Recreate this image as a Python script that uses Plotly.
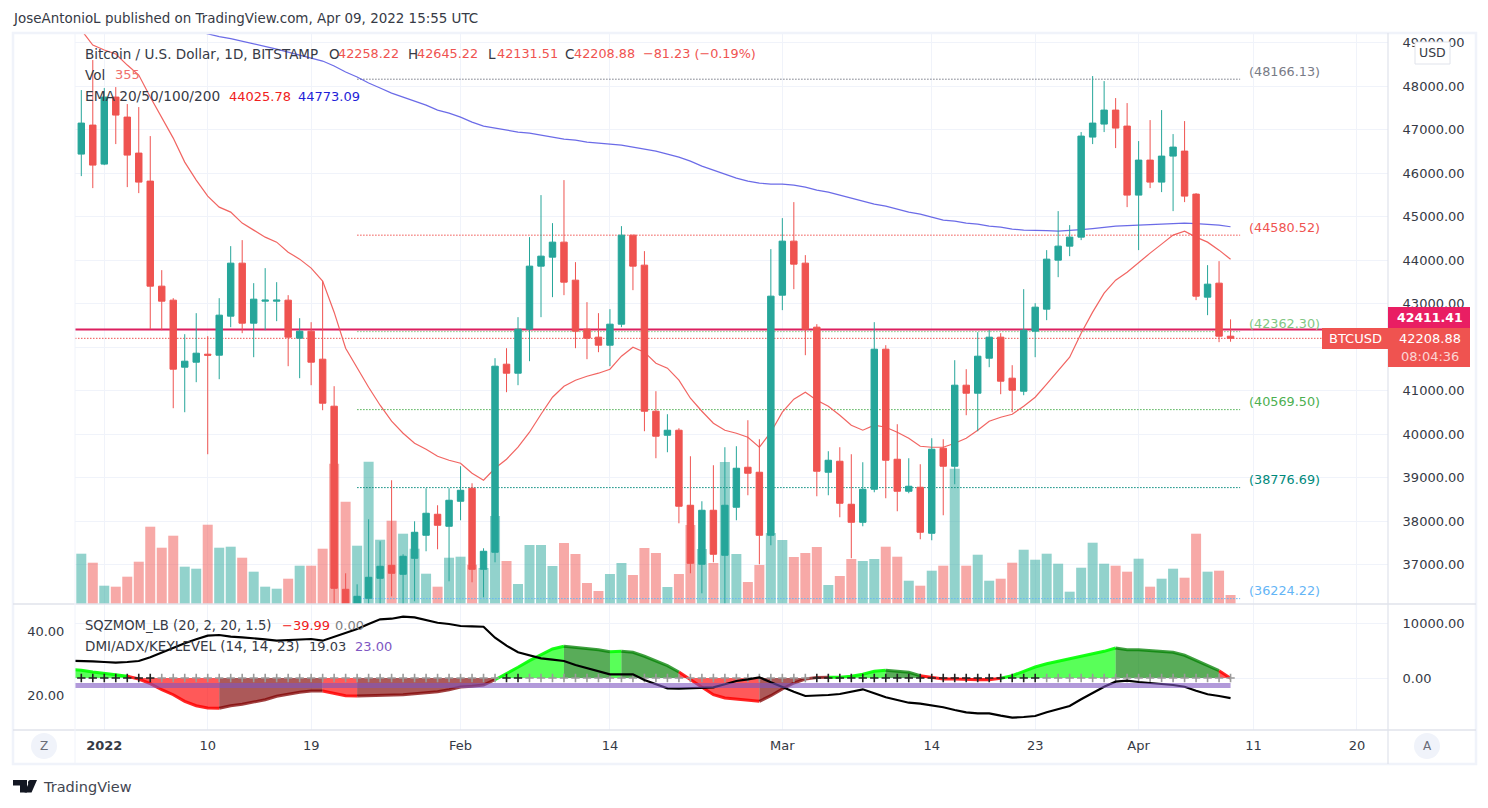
import pandas as pd
import plotly.graph_objects as go

# figure size, the page body adds an 8px margin
FIG_W = 1472
FIG_H = 792
OFF = 8
FONT = "DejaVu Sans"

UP = "#26a69a"
DOWN = "#ef5350"

# daily candles, Dec 30 2021 to Apr 09 2022
first_day = "2021-12-30"
opens = [46444,47111,46214,47755,47295,46467,45823,43408,43086,41545,41660,41844,41821,42718,43937,42557,43063,43063,43086,42212,
         42373,41729,40648,36439,35030,36232,36692,36991,36784,37152,37681,38164,37888,38463,38762,36899,37290,41614,41407,42419,
         43868,44075,44420,43546,42419,42235,42051,42534,44581,43891,40533,39981,40096,38371,37014,38256,37221,38325,39245,39130,
         37681,43201,44443,43937,42465,39130,39383,38394,37980,38739,41959,39429,38693,38785,37727,39682,39268,41131,40947,41752,
         42235,41292,40993,42373,42879,44006,44328,44535,46835,47134,47456,47088,45501,46306,45800,46398,46513,45524,43155,43477,42258]
highs = [47916,48606,47962,47985,47594,47525,46858,43776,43132,42304,42787,42258,43132,44328,44466,43477,43822,43500,43201,42672,
         42580,43523,41108,36807,36554,38049,37543,38946,37244,38003,38762,38371,38762,39268,38877,37382,41752,41982,42695,44535,
         45501,44857,45846,43960,43040,42787,42879,44788,44581,44213,40993,40464,40142,39498,38463,39291,39705,39728,40326,39889,
         44259,44972,45340,44121,42534,39613,39705,39544,39360,42580,42051,40234,39452,39314,39912,39889,41706,41499,42350,42396,
         42327,41591,43339,43017,44236,45133,44811,46950,48238,48123,47732,47617,46743,47226,47456,46904,47203,45547,43891,43983,42645]
lows = [45938,45662,46190,46674,45685,45547,42419,42396,40602,40510,41200,39544,41269,42465,42327,41775,42396,42603,41568,41292,
        41131,40556,35500,34000,34600,32950,35600,36278,35500,36163,37313,37359,36623,38026,36600,36255,37060,40970,41131,41683,
        42695,43155,43201,41982,41729,41890,41568,42465,43316,40073,39452,39590,37957,36807,36347,37060,36071,38026,38601,37014,
        37451,42856,43339,41821,38578,38601,38095,37152,37888,38670,38532,38233,38647,37589,37566,38141,38854,40441,40073,41545,
        40924,40510,40901,41775,42626,43615,44098,44466,46674,46950,46582,45225,44236,45662,45570,45133,45340,43086,42741,42120,42131]
closes = [47157,46191,47755,47341,46421,45800,43408,43063,41499,41683,41867,41821,42741,43937,42557,43109,43086,43086,42235,42373,
          41660,40717,36462,35030,36278,36715,36968,36807,37198,37750,38187,37911,38486,38716,36899,37313,41568,41407,42419,43868,
          44098,44420,43500,42373,42212,42051,42534,44581,43868,40533,39958,40096,38348,37037,38256,37244,38371,39222,39107,37681,
          43178,44443,43914,42419,39153,39406,38417,37980,38739,41959,39406,38693,38808,37750,39659,39268,41131,40947,41798,42235,
          41223,41016,42396,42925,44029,44328,44535,46858,47157,47456,47042,45501,46306,45800,46398,46605,45478,43178,43454,42258,42208.88]
volumes = [1982,1627,721,682,1076,1667,3046,2218,2691,1470,1391,3124,2218,2258,1824,1273,682,603,997,1509,
           1509,2179,5528,4031,2297,5607,2533,3282,2770,2179,1194,682,1824,1864,1548,1418,3467,1694,788,2325,
           2325,1497,2403,1970,827,512,1182,1615,1143,2206,2009,670,1182,3113,2167,1615,5595,1970,867,1537,
           2797,2522,1852,2009,2246,749,1103,1773,1694,1773,2258,1864,918,721,1312,1509,5331,1509,1942,918,
           997,1627,2139,1745,1982,1588,485,1430,2415,1588,1509,1273,1785,682,997,1391,1036,2770,1273,1312,355]
ema20 = [49296,48951,48836,48744,48491,48261,47755,47295,46812,46260,45846,45478,45225,45110,44857,44696,44535,44420,44190,44029,
         43822,43523,42810,41982,41522,41085,40671,40303,40027,39797,39659,39498,39406,39337,39107,38946,39222,39429,39705,40050,
         40464,40855,41108,41246,41338,41407,41499,41798,42005,41890,41637,41522,41246,40832,40533,40257,40096,40027,39935,39705,
         40050,40510,40809,40970,40786,40648,40441,40211,40096,40211,40165,40050,39912,39728,39705,39705,39797,39912,40096,40303,
         40395,40464,40648,40855,41154,41476,41775,42327,42810,43247,43546,43730,43960,44167,44374,44581,44673,44535,44420,44236,44025.78]
ema200 = [None]*10 + [49273,49204,49146,49100,49043,48974,48916,48859,48790,48721,
          48652,48583,48468,48330,48215,48077,47962,47847,47755,47663,47571,47456,47387,47295,47180,47088,47042,46996,46950,46927,
          46881,46835,46789,46766,46720,46697,46674,46651,46605,46559,46513,46444,46375,46283,46168,46076,45984,45892,45823,45777,
          45754,45754,45731,45685,45616,45570,45501,45432,45363,45294,45248,45179,45110,45064,44995,44926,44903,44857,44834,44788,
          44765,44719,44696,44696,44684,44673,44684,44707,44731,44765,44788,44800,44811,44823,44834,44857,44857,44846,44834,44811,44773.09]

# indicator pane, one extra day on the left (Dec 29)
momentum = [1550,1400,1090,910,600,310,-180,-1040,-2130,-3040,-4240,-5040,-5450,-5510,-5040,-4780,-4420,-3950,-3330,-2910,-2600,
            -2360,-2360,-2730,-3220,-3270,-3220,-3150,-3090,-3040,-2850,-2730,-2490,-2130,-1640,-1510,-1270,-310,780,1950,3150,
            4240,5270,5760,5580,5400,5150,4780,4850,4670,3950,3150,2240,1090,-310,-1690,-3040,-3640,-3820,-3950,-4240,
            -3220,-2000,-910,-180,110,150,130,310,670,1220,1400,1270,1040,420,55,-180,-180,-310,-310,-310,
            -55,420,1220,2000,2600,3090,3450,3950,4420,4850,5450,5150,5150,4960,4850,4670,4130,3220,2310,1330,-39.99]
# colour of the segment that ends on each point: L lime, G green, R red, M maroon
mom_colors = list("L"*6 + "R"*8 + "M"*9 + "R"*3 + "M"*12 + "L"*6 + "G"*4 + "L" + "G"*5 + "R"*7
                  + "M"*6 + "L"*5 + "G"*3 + "R"*7 + "L"*10 + "G"*9 + "R")
dmi = [30.7,30.72,30.53,30.31,30.09,30.31,30.63,31.78,33.22,34.91,36.16,37.41,38.53,38.75,38.22,38.03,37.81,37.41,36.97,37.09,37.28,
       37.5,36.97,38.22,39.59,40.63,42.19,43.66,43.84,44.47,44.28,43.44,42.59,42.19,41.56,41.47,41.34,37.91,35.41,33.34,32.5,
       31.47,31.03,30.63,29.38,28.34,27.28,26.47,26.47,26.47,24.69,23.34,22.09,21.97,22.09,22.41,22.41,23.34,24.38,24.91,25.53,
       23.97,22.41,21.03,19.69,19.78,20,20.31,21.03,21.78,20.53,19.28,18.44,17.59,17.28,16.78,16.16,15.31,14.59,14.28,14.28,
       13.53,12.91,13.13,13.44,14.59,15.63,16.56,18.66,20.72,22.59,24.16,24.47,24.06,23.66,23.44,23.13,22.59,21.34,20.22,19.69,19.03]
# 1 = dark cross, 0 = grey cross
squeeze_on = list("1"*7 + "0"*30 + "1"*2 + "0"*25 + "1"*20 + "0"*17)
key_level = 23.0

# horizontal levels
level_values = [48166.13, 44580.52, 42362.30, 40569.50, 38776.69, 36224.22]
level_colors = ["#787b86", "#ef5350", "#81c784", "#4caf50", "#00897b", "#64b5f6"]
level_start = "2022-01-23"
level_end = "2022-04-09 20:00"
alert_price = 42411.41
last_price = 42208.88

# 42000.00 sits under the price tags, so it keeps its grid line but no label
price_ticks = [37000,38000,39000,40000,41000,42000,43000,44000,45000,46000,47000,48000,49000]
price_labels = ["37000.00","38000.00","39000.00","40000.00","41000.00","","43000.00","44000.00","45000.00","46000.00","47000.00","48000.00","49000.00"]
time_tick_dates = ["2022-01-01","2022-01-10","2022-01-19","2022-02-01","2022-02-14","2022-03-01","2022-03-14","2022-03-23","2022-04-01","2022-04-11","2022-04-20"]
time_tick_labels = ["<b>2022</b>","10","19","Feb","14","Mar","14","23","Apr","11","20"]

x_range = ["2021-12-29 10:51", "2022-04-22 16:48"]
price_range = [36101, 49228]
volume_range = [0, 22500]
mom_range = [-9454, 13454]
dmi_range = [9.06, 48.44]

dates = pd.date_range(first_day, periods=len(opens))
ind_dates = pd.date_range("2021-12-29", periods=len(momentum))


def xp(px):
    return (px - OFF) / FIG_W


def yp(py):
    return 1 - (py - OFF) / FIG_H


fig = go.Figure()

# volume goes at the back, then lines, then candles on top
bar_colors = ["rgba(38,166,154,0.5)" if c >= o else "rgba(239,83,80,0.5)" for o, c in zip(opens, closes)]
fig.add_trace(go.Bar(x=dates, y=volumes, marker=dict(color=bar_colors, line_width=0), xaxis="x", yaxis="y"))

DOTS = "1.5px,1.5px"
fig.add_trace(go.Scatter(x=x_range, y=[last_price]*2, mode="lines", line=dict(color="#ef5350", width=1, dash=DOTS), xaxis="x", yaxis="y2"))
for val, col in zip(level_values, level_colors):
    fig.add_trace(go.Scatter(x=[level_start, level_end], y=[val, val], mode="lines",
                             line=dict(color=col, width=1, dash=DOTS), xaxis="x", yaxis="y2"))
fig.add_trace(go.Scatter(x=x_range, y=[alert_price]*2, mode="lines", line=dict(color="#dc1f5f", width=2), xaxis="x", yaxis="y2"))
fig.add_trace(go.Scatter(x=dates, y=ema20, mode="lines", line=dict(color="rgba(239,83,80,0.9)", width=1.2), xaxis="x", yaxis="y2"))
fig.add_trace(go.Scatter(x=dates, y=ema200, mode="lines", line=dict(color="rgba(70,70,225,0.8)", width=1.2), xaxis="x", yaxis="y2"))

fig.add_trace(go.Candlestick(
    x=dates, open=opens, high=highs, low=lows, close=closes,
    increasing=dict(line=dict(color=UP, width=1), fillcolor=UP),
    decreasing=dict(line=dict(color=DOWN, width=1), fillcolor=DOWN),
    whiskerwidth=0, xaxis="x", yaxis="y3",
))

# momentum area, one trace per colour run
mom_styles = {
    "L": ("rgba(0,255,0,0.9)", "rgba(0,255,0,0.65)"),
    "G": ("rgba(0,128,0,0.75)", "rgba(0,128,0,0.65)"),
    "R": ("rgba(255,0,0,0.85)", "rgba(255,0,0,0.65)"),
    "M": ("rgba(128,0,0,0.75)", "rgba(128,0,0,0.65)"),
}
start = 0
for i in range(1, len(momentum) + 1):
    if i == len(momentum) or mom_colors[i] != mom_colors[start]:
        line_col, fill_col = mom_styles[mom_colors[start]]
        fig.add_trace(go.Scatter(x=ind_dates[max(start - 1, 0):i], y=momentum[max(start - 1, 0):i], mode="lines",
                                 fill="tozeroy", fillcolor=fill_col, line=dict(color=line_col, width=3),
                                 xaxis="x2", yaxis="y4"))
        start = i

# squeeze crosses on the zero line
cross_colors = ["#222222" if s == "1" else "#9a9a9a" for s in squeeze_on]
fig.add_trace(go.Scatter(x=dates, y=[0]*len(dates), mode="markers",
                         marker=dict(symbol="cross-thin", size=6, line=dict(color=cross_colors, width=1.6)),
                         xaxis="x2", yaxis="y4"))

fig.add_trace(go.Scatter(x=ind_dates, y=dmi, mode="lines", line=dict(color="#000000", width=2.2), xaxis="x2", yaxis="y5"))
fig.add_trace(go.Scatter(x=ind_dates[[0, -1]], y=[key_level, key_level], mode="lines",
                         line=dict(color="rgba(126,87,194,0.6)", width=5), xaxis="x2", yaxis="y5"))

GRID = "#f0f3fa"
tick_font = dict(family=FONT, size=13, color="#363a45")
x_dom = [xp(75), xp(1388)]
price_dom = [yp(604), yp(33)]
ind_dom = [yp(730), yp(604)]

fig.update_layout(
    width=FIG_W, height=FIG_H, margin=dict(l=0, r=0, t=0, b=0, pad=0),
    paper_bgcolor="#ffffff", plot_bgcolor="#ffffff", showlegend=False,
    font=dict(family=FONT, size=13, color="#131722"),
    bargap=0.13, boxgap=0.2,
    xaxis=dict(domain=x_dom, type="date", range=x_range, anchor="y", tickvals=time_tick_dates, showticklabels=False,
               ticks="", showgrid=True, gridcolor=GRID, gridwidth=1, rangeslider=dict(visible=False), zeroline=False),
    yaxis=dict(domain=price_dom, range=volume_range, visible=False, showgrid=False, zeroline=False),
    yaxis2=dict(overlaying="y", side="right", anchor="x", range=price_range, tickvals=price_ticks, ticktext=price_labels,
                showgrid=True, gridcolor=GRID, zeroline=False, tickfont=tick_font,
                ticks="outside", ticklen=11, tickcolor="rgba(0,0,0,0)"),
    yaxis3=dict(overlaying="y", anchor="x", range=price_range, visible=False, showgrid=False, zeroline=False),
    xaxis2=dict(domain=x_dom, type="date", range=x_range, anchor="y4", tickvals=time_tick_dates, ticktext=time_tick_labels,
                tickfont=tick_font, ticks="outside", ticklen=3, tickcolor="rgba(0,0,0,0)",
                showgrid=True, gridcolor=GRID, zeroline=False),
    yaxis4=dict(domain=ind_dom, side="right", anchor="x2", range=mom_range, tickvals=[0, 10000], tickformat=".2f",
                showgrid=True, gridcolor=GRID, zeroline=False, tickfont=tick_font,
                ticks="outside", ticklen=11, tickcolor="rgba(0,0,0,0)"),
    yaxis5=dict(overlaying="y4", side="left", anchor="x2", range=dmi_range, tickvals=[20, 40], tickformat=".2f",
                showgrid=False, zeroline=False, tickfont=tick_font,
                ticks="outside", ticklen=7, tickcolor="rgba(0,0,0,0)"),
)

# chart frame and pane separators
FRAME = "#f0f3fa"
EDGE = "#e0e3eb"
shapes = [
    dict(type="rect", x0=xp(13), x1=xp(1476), y0=yp(33), y1=yp(764), line=dict(color=FRAME, width=2.5)),
    dict(type="line", x0=xp(13), x1=xp(1476), y0=yp(604), y1=yp(604), line=dict(color=EDGE, width=1.5)),
    dict(type="line", x0=xp(13), x1=xp(1476), y0=yp(730), y1=yp(730), line=dict(color=EDGE, width=1.5)),
    dict(type="line", x0=xp(1388), x1=xp(1388), y0=yp(33), y1=yp(764), line=dict(color=EDGE, width=1.2)),
    dict(type="line", x0=xp(75), x1=xp(75), y0=yp(33), y1=yp(764), line=dict(color=FRAME, width=1)),
    # price tags
    dict(type="rect", x0=xp(1388), x1=xp(1470), y0=yp(307), y1=yp(328), fillcolor="#e91e63", line_width=0),
    dict(type="rect", x0=xp(1388), x1=xp(1470), y0=yp(328), y1=yp(367), fillcolor="#ef5350", line_width=0),
    dict(type="rect", x0=xp(1322), x1=xp(1388), y0=yp(328), y1=yp(349), fillcolor="#ef5350", line_width=0),
    # USD button
    dict(type="rect", x0=xp(1415), x1=xp(1450), y0=yp(42), y1=yp(64), fillcolor="#ffffff", line=dict(color="#e0e3eb", width=1)),
    # Z and A buttons
    dict(type="circle", x0=xp(31), x1=xp(57), y0=yp(733), y1=yp(759), fillcolor="#f0f3fa", line_width=0),
    dict(type="circle", x0=xp(1414), x1=xp(1440), y0=yp(733), y1=yp(759), fillcolor="#f0f3fa", line_width=0),
    # TradingView logo
    dict(type="rect", x0=xp(13), x1=xp(27), y0=yp(780), y1=yp(785.5), fillcolor="#131722", line_width=0),
    dict(type="rect", x0=xp(20), x1=xp(27), y0=yp(785), y1=yp(792.5), fillcolor="#131722", line_width=0),
    dict(type="circle", x0=xp(28), x1=xp(33), y0=yp(780), y1=yp(785), fillcolor="#131722", line_width=0),
    dict(type="path", path=f"M {xp(37)} {yp(780)} L {xp(31.5)} {yp(792.5)} L {xp(24.5)} {yp(792.5)} L {xp(30)} {yp(780)} Z",
         fillcolor="#131722", line_width=0),
]
for s in shapes:
    s.update(xref="paper", yref="paper")
fig.update_layout(shapes=shapes)


def label(px, py, text, color="#131722", size=13, anchor="left"):
    fig.add_annotation(x=xp(px), y=yp(py), xref="paper", yref="paper", text=text, showarrow=False, xanchor=anchor,
                       yanchor="middle", align="left", font=dict(family=FONT, size=size, color=color),
                       borderpad=0, borderwidth=0)


label(13, 19, "JoseAntonioL published on TradingView.com, Apr 09, 2022 15:55 UTC", "#363a45", size=13.45)
label(43, 787, "TradingView", "#434651", size=14.5)

# legend rows
label(85, 54, "Bitcoin / U.S. Dollar, 1D, BITSTAMP", "#363a45", size=13.5)
for px, letter, val in [(329, "O", "42258.22"), (408, "H", "42645.22"), (488, "L", "42131.51"), (565, "C", "42208.88")]:
    label(px, 54, letter, "#363a45", size=13.5)
    label(px + 9, 54, val, DOWN, size=12.8)
label(643, 54, "−81.23 (−0.19%)", DOWN, size=12.8)
label(85, 75, "Vol", "#363a45", size=13.5)
label(115, 75, "355", "#ef6f6c")
label(85, 96, "EMA 20/50/100/200", "#363a45", size=13.7)
label(229, 96, "44025.78", "#f02020")
label(298, 96, "44773.09", "#1f1fd8")
label(85, 625, "SQZMOM_LB (20, 2, 20, 1.5)", "#363a45", size=13.2)
label(282, 625, "−39.99", "#f02020")
label(335, 625, "0.00", "#808080")
label(85, 646, "DMI/ADX/KEYLEVEL (14, 14, 23)", "#363a45", size=13.5)
label(309, 646, "19.03", "#363a45")
label(355, 646, "23.00", "#7e57c2")

# level labels, sit just above their dotted lines
for val, col in zip(level_values, level_colors):
    fig.add_annotation(x=xp(1248), y=val, xref="paper", yref="y2", yshift=8, text=f"({val:.2f})", showarrow=False,
                       xanchor="left", yanchor="middle", borderpad=0, font=dict(family=FONT, size=12.8, color=col))

# tag texts
label(1355, 338.5, "BTCUSD", "#ffffff", anchor="center")
label(1430, 317.5, "<b>42411.41</b>", "#ffffff", size=12.5, anchor="center")
label(1430, 338, "42208.88", "#ffffff", anchor="center")
label(1430, 356.5, "08:04:36", "#fbd5d4", anchor="center")
label(1432, 53, "USD", "#363a45", size=12.5, anchor="center")
label(44, 746, "Z", "#6a6d78", size=12, anchor="center")
label(1427, 746, "A", "#6a6d78", size=12, anchor="center")

fig.write_html("out.html")
